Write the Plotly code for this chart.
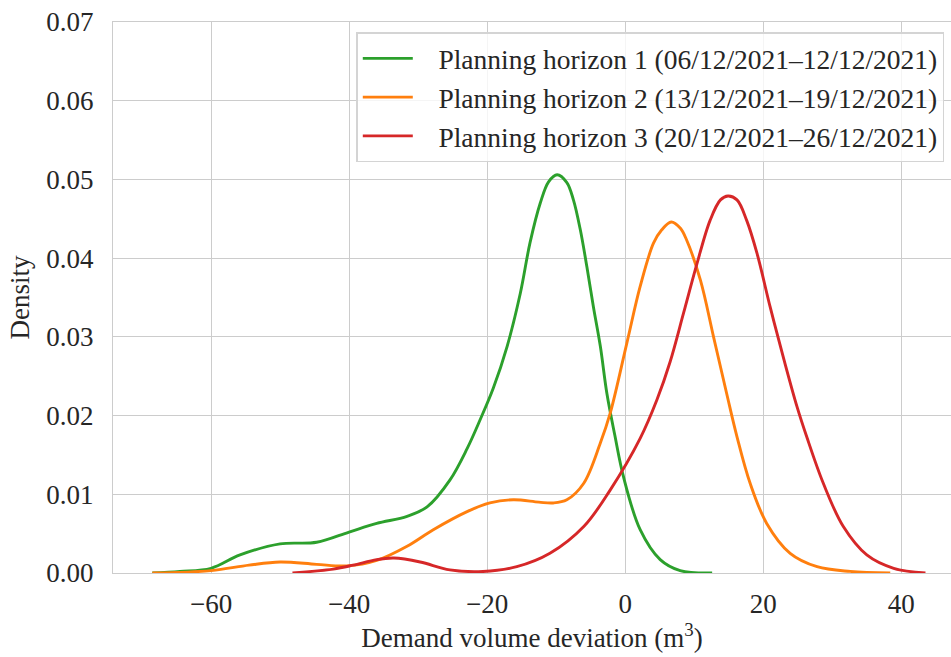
import plotly.graph_objects as go

# Horizon 1 (green)
x1 = [-68.5, -64.5, -60.0, -55.8, -50.0, -44.7, -40.0, -36.0, -31.6, -28.7, -25.4, -22.9, -21.0, -19.1,
      -17.1, -15.2, -13.8, -12.3, -11.1, -9.86, -8.45, -7.5, -6.5, -5.55, -4.6, -3.6, -2.65, -1.5, -0.24,
      2.17, 5.07, 7.97, 12.6]
d1 = [0.0, 0.0002, 0.0006, 0.0023, 0.0037, 0.0039, 0.0052, 0.0063, 0.0072, 0.0084, 0.0118, 0.0158, 0.0195, 0.0235,
      0.0288, 0.0355, 0.0419, 0.0470, 0.0497, 0.0506, 0.0496, 0.0474, 0.0436, 0.0389, 0.0338, 0.0288, 0.0228, 0.0175, 0.0122,
      0.0055, 0.0017, 0.0003, 0.0]

# Horizon 2 (orange)
x2 = [-68.5, -60.0, -54.5, -50.0, -44.7, -40.3, -36.0, -31.6, -27.8, -22.9, -19.6, -16.2, -12.5, -10.4,
      -8.45, -6.0, -3.6, -2.17, 0.24, 2.17, 4.1, 5.3, 6.67, 8.0, 8.9, 10.9, 12.8, 14.7, 16.2, 18.1, 20.5, 23.9,
      27.8, 32.6, 38.4]
d2 = [0.0, 0.0003, 0.0010, 0.0014, 0.0011, 0.0009, 0.0016, 0.0034, 0.0055, 0.0078, 0.0089, 0.0093, 0.0090, 0.0089,
      0.0093, 0.0114, 0.0165, 0.0203, 0.0292, 0.0364, 0.0419, 0.0436, 0.0446, 0.0438, 0.0423, 0.0372, 0.0300, 0.0228,
      0.0173, 0.0114, 0.0063, 0.0025, 0.0008, 0.0002, 0.0]

# Horizon 3 (red)
x3 = [-48.2, -42.3, -39.4, -36.0, -33.5, -29.7, -25.4, -20.6, -15.7, -10.9, -6.0, -2.2, 2.17, 4.6, 6.5,
      8.45, 10.4, 12.3, 13.8, 14.9, 16.2, 17.6, 19.1, 21.0, 23.0, 24.9, 26.3, 28.7, 31.6, 35.0, 38.9, 43.5]
d3 = [0.0, 0.0005, 0.0010, 0.0017, 0.0019, 0.0014, 0.0004, 0.0002, 0.0008, 0.0025, 0.0059, 0.0105, 0.0171, 0.0220, 0.0268,
      0.0330, 0.0393, 0.0448, 0.0474, 0.0479, 0.0474, 0.0448, 0.0406, 0.0338, 0.0271, 0.0211, 0.0173, 0.0114, 0.0059,
      0.0023, 0.0006, 0.0]

names = ["Planning horizon 1 (06/12/2021–12/12/2021)",
         "Planning horizon 2 (13/12/2021–19/12/2021)",
         "Planning horizon 3 (20/12/2021–26/12/2021)"]
colors = ["#2ca02c", "#ff7f0e", "#d62728"]

x_ticks = [-60, -40, -20, 0, 20, 40]
y_ticks = [0.0, 0.01, 0.02, 0.03, 0.04, 0.05, 0.06, 0.07]

font = "Liberation Serif, Times New Roman, serif"

fig = go.Figure()
for xs, ds, n, c in zip([x1, x2, x3], [d1, d2, d3], names, colors):
    fig.add_trace(go.Scatter(x=xs, y=ds, mode="lines", name="\u2002 " + n,
                             line=dict(color=c, width=2.9, shape="spline", smoothing=1.0)))

fig.update_layout(
    width=951, height=657,
    margin=dict(l=113, r=0, t=22, b=84),
    paper_bgcolor="white", plot_bgcolor="white",
    font=dict(family=font, size=27, color="#262626"),
    showlegend=True,
    legend=dict(x=0.992, y=0.981, xanchor="right", yanchor="top",
                bgcolor="rgba(255,255,255,0.8)", bordercolor="#d4d4d4", borderwidth=1.5,
                font=dict(family=font, size=27.5, color="#262626"),
                tracegroupgap=0, itemwidth=50),
    xaxis=dict(range=[-74.2, 47.2], tickvals=x_ticks, showgrid=True, gridcolor="#cccccc", gridwidth=1.4,
               zeroline=False, showline=True, linecolor="#cccccc", linewidth=1.4, mirror=True,
               ticks="", ticklabelstandoff=6,
               title=dict(text="Demand volume deviation (m<sup>3</sup>)", font=dict(size=27), standoff=4)),
    yaxis=dict(range=[0, 0.07], tickvals=y_ticks, tickformat=".2f", showgrid=True, gridcolor="#cccccc",
               gridwidth=1.4, zeroline=False, showline=True, linecolor="#cccccc", linewidth=1.4, mirror=False,
               ticks="", ticklabelstandoff=13,
               title=dict(text="Density", font=dict(size=27), standoff=8)),
)

fig.write_html("out.html")
